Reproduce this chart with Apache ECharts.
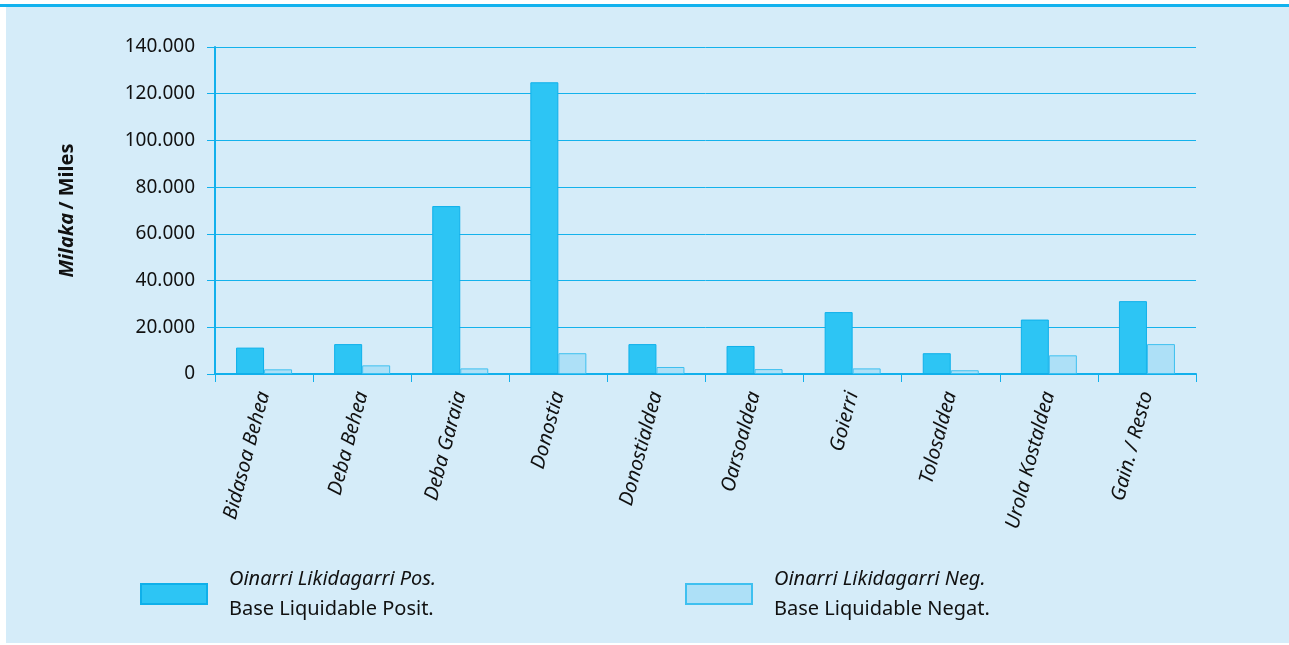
<!DOCTYPE html>
<html>
<head>
<meta charset="utf-8">
<script src="https://cdn.jsdelivr.net/npm/echarts@6/dist/echarts.min.js"></script>
<style>
  html, body { margin: 0; padding: 0; background: #fff; }
  #frame { position: absolute; left: 0; top: 0; width: 1289px; height: 645px; }
  #topline { position: absolute; left: 0; top: 4px; width: 1289px; height: 3px; background: #12b2ee; }
  #main { position: absolute; left: 6px; top: 7px; width: 1283px; height: 636px; background: #d5ecf9; }
</style>
</head>
<body>
<div id="frame">
  <div id="topline"></div>
  <div id="main"></div>
</div>
<script>
// comarcas de Gipuzkoa
var categories = ['Bidasoa Behea', 'Deba Behea', 'Deba Garaia', 'Donostia', 'Donostialdea',
                  'Oarsoaldea', 'Goierri', 'Tolosaldea', 'Urola Kostaldea', 'Gain. / Resto'];
// base liquidable positiva (miles)
var positiva = [11300, 12800, 71900, 124900, 12800, 12000, 26500, 8900, 23300, 31200];
// base liquidable negativa (miles)
var negativa = [2000, 3700, 2400, 8900, 3000, 2100, 2400, 1600, 8000, 12800];
var yTicks = [0, 20000, 40000, 60000, 80000, 100000, 120000, 140000];

var fontFam = '"Noto Sans", "Open Sans", sans-serif';

function miles(v) {
    return String(v).replace(/\B(?=(\d{3})+(?!\d))/g, '.');
}

var chart = echarts.init(document.getElementById('main'));

var legendRich = {
    it: { fontStyle: 'italic', fontSize: 20, color: '#111', fontFamily: fontFam, lineHeight: 30 },
    up: { fontSize: 20, color: '#111', fontFamily: fontFam, lineHeight: 30 }
};

var option = {
    animation: false,
    textStyle: { fontFamily: fontFam },
    grid: { left: 209, right: 93, top: 40, bottom: 269, containLabel: false },
    legend: [{
        data: ['Pos'],
        left: 129, top: 557,
        itemWidth: 66, itemHeight: 20, itemGap: 22,
        icon: 'rect',
        formatter: function () { return '{it|Oinarri Likidagarri Pos.}\n{up|Base Liquidable Posit.}'; },
        textStyle: { rich: legendRich, padding: [0, 0, 0, 17] }
    }, {
        data: ['Neg'],
        left: 674, top: 557,
        itemWidth: 66, itemHeight: 20, itemGap: 22,
        icon: 'rect',
        formatter: function () { return '{it|Oinarri Likidagarri Neg.}\n{up|Base Liquidable Negat.}'; },
        textStyle: { rich: legendRich, padding: [0, 0, 0, 17] }
    }],
    xAxis: {
        type: 'category',
        data: categories,
        boundaryGap: true,
        axisLine: { lineStyle: { color: '#12b0ec', width: 2 } },
        axisTick: { show: true, length: 8, lineStyle: { color: '#12b0ec', width: 1 } },
        axisLabel: {
            rotate: 75,
            interval: 0,
            margin: 18,
            fontStyle: 'italic',
            fontSize: 20,
            color: '#111',
            fontFamily: fontFam
        }
    },
    yAxis: {
        type: 'value',
        min: 0, max: 140000, interval: 20000,
        name: '{i|Milaka} {b|/ Miles}',
        nameLocation: 'middle',
        nameRotate: 90,
        nameGap: 138,
        nameTextStyle: {
            rich: {
                i: { fontStyle: 'italic', fontWeight: 'bold', fontSize: 20, color: '#111', fontFamily: fontFam },
                b: { fontWeight: 'bold', fontSize: 20, color: '#111', fontFamily: fontFam }
            }
        },
        axisLine: { show: true, lineStyle: { color: '#12b0ec', width: 2 } },
        axisTick: { show: true, length: 8, lineStyle: { color: '#12b0ec', width: 1 } },
        axisLabel: {
            margin: 20,
            fontSize: 19,
            color: '#111',
            fontFamily: fontFam,
            formatter: function (v) { return miles(v); }
        },
        splitLine: { show: true, lineStyle: { color: '#14b2ec', width: 1 } }
    },
    series: [{
        name: 'Pos',
        type: 'bar',
        data: positiva,
        barWidth: 28,
        barGap: '0%',
        itemStyle: { color: '#2dc5f4', borderColor: '#0fb0ea', borderWidth: 1 }
    }, {
        name: 'Neg',
        type: 'bar',
        data: negativa,
        barWidth: 28,
        itemStyle: { color: '#ade0f7', borderColor: '#3ec0f0', borderWidth: 1 }
    }]
};
chart.setOption(option);
</script>
</body>
</html>
